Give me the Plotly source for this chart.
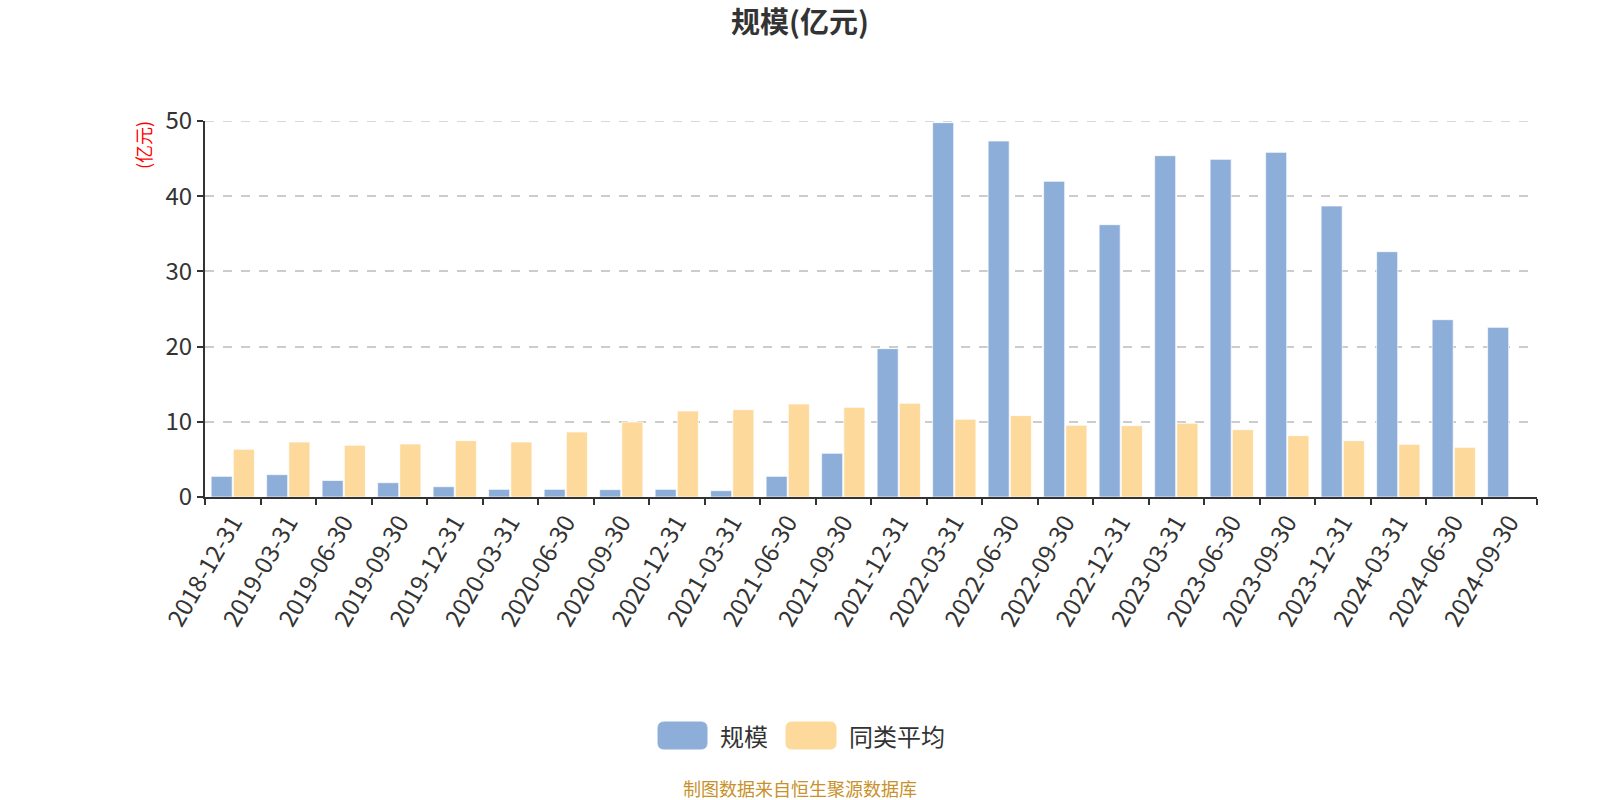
import plotly.graph_objects as go

categories = ["2018-12-31", "2019-03-31", "2019-06-30", "2019-09-30", "2019-12-31",
              "2020-03-31", "2020-06-30", "2020-09-30", "2020-12-31", "2021-03-31",
              "2021-06-30", "2021-09-30", "2021-12-31", "2022-03-31", "2022-06-30",
              "2022-09-30", "2022-12-31", "2023-03-31", "2023-06-30", "2023-09-30",
              "2023-12-31", "2024-03-31", "2024-06-30", "2024-09-30"]
scale = [2.75, 2.97, 2.20, 1.90, 1.37, 1.02, 1.02, 0.98, 1.02, 0.84,
         2.75, 5.81, 19.73, 49.78, 47.34, 41.98, 36.21, 45.39, 44.90, 45.83,
         38.70, 32.62, 23.58, 22.56]
peer_avg = [6.34, 7.31, 6.87, 7.05, 7.49, 7.31, 8.64, 9.97, 11.44, 11.61,
            12.37, 11.92, 12.46, 10.33, 10.82, 9.53, 9.49, 9.80, 8.95, 8.16,
            7.49, 7.00, 6.60, None]
series_names = ["规模", "同类平均"]
colors = ["#8EAEDA", "#FDD99B"]
y_ticks = [0, 10, 20, 30, 40, 50]

FONT = "Noto Sans CJK SC"
L, R, T, B = 205, 1537, 121, 497
PW, PH = R - L, B - T


def px(x):
    return (x - L) / PW


def py(y):
    return (B - y) / PH


fig = go.Figure()
for name, vals, col in zip(series_names, [scale, peer_avg], colors):
    fig.add_trace(go.Bar(
        x=categories, y=vals, name=name,
        marker=dict(color=col, line=dict(color="rgba(255,255,255,0.7)", width=1)),
        showlegend=False,
    ))

fig.update_layout(
    width=1600, height=800,
    paper_bgcolor="white", plot_bgcolor="white",
    margin=dict(l=L, r=1600 - R, t=T, b=800 - B),
    barmode="group", bargap=0.2, bargroupgap=0.05,
    font=dict(family=FONT, color="#333333"),
    title=dict(text="<b>规模(亿元)</b>", x=0.5, xanchor="center",
               y=1 - 23 / 800, yanchor="middle", yref="container",
               font=dict(size=29, color="#333333", family=FONT)),
    xaxis=dict(
        type="category", tickangle=-60, tickson="boundaries",
        ticks="outside", ticklen=6, tickwidth=2, tickcolor="#333333",
        showline=True, linecolor="#333333", linewidth=2,
        showgrid=False, tickfont=dict(size=24, color="#333333"),
    ),
    yaxis=dict(
        range=[y_ticks[0], y_ticks[-1]], tickvals=y_ticks,
        ticks="outside", ticklen=6, tickwidth=2,
        tickcolor="#333333", showline=True, linecolor="#333333", linewidth=2,
        showgrid=True, gridcolor="#cccccc", griddash="dash", gridwidth=1.5,
        zeroline=False, tickfont=dict(size=24, color="#333333"),
    ),
)

# top gridline (plotly clips the gridline at the range end)
fig.add_shape(type="line", xref="paper", yref="y", x0=0, x1=1,
              y0=y_ticks[-1], y1=y_ticks[-1], layer="below",
              line=dict(color="#cccccc", width=1.5, dash="dash"))

# y-axis unit label
fig.add_annotation(text="(亿元)", xref="paper", yref="paper",
                   x=px(143), y=py(145), xanchor="center", yanchor="middle",
                   showarrow=False, textangle=-90,
                   font=dict(size=18, color="#ff0000", family=FONT))


def rounded_rect(x0, y0, x1, y1, r):
    X = lambda v: px(v)
    Y = lambda v: py(v)
    return (f"M {X(x0 + r)} {Y(y0)} L {X(x1 - r)} {Y(y0)} Q {X(x1)} {Y(y0)} {X(x1)} {Y(y0 + r)} "
            f"L {X(x1)} {Y(y1 - r)} Q {X(x1)} {Y(y1)} {X(x1 - r)} {Y(y1)} "
            f"L {X(x0 + r)} {Y(y1)} Q {X(x0)} {Y(y1)} {X(x0)} {Y(y1 - r)} "
            f"L {X(x0)} {Y(y0 + r)} Q {X(x0)} {Y(y0)} {X(x0 + r)} {Y(y0)} Z")


# custom legend
legend_items = [(658, 707, 718), (786, 836, 847)]
for (x0, x1, tx), name, col in zip(legend_items, series_names, colors):
    fig.add_shape(type="path", xref="paper", yref="paper",
                  path=rounded_rect(x0, 722, x1, 749, 6),
                  fillcolor=col, line=dict(color=col, width=1))
    fig.add_annotation(text=name, xref="paper", yref="paper",
                       x=px(tx), y=py(735),
                       xanchor="left", yanchor="middle", showarrow=False,
                       font=dict(size=24, color="#333333", family=FONT))

# footer
fig.add_annotation(text="制图数据来自恒生聚源数据库", xref="paper", yref="paper",
                   x=px(800), y=py(788),
                   xanchor="center", yanchor="middle", showarrow=False,
                   font=dict(size=18, color="#C8912A", family=FONT))

fig.write_html("out.html")
